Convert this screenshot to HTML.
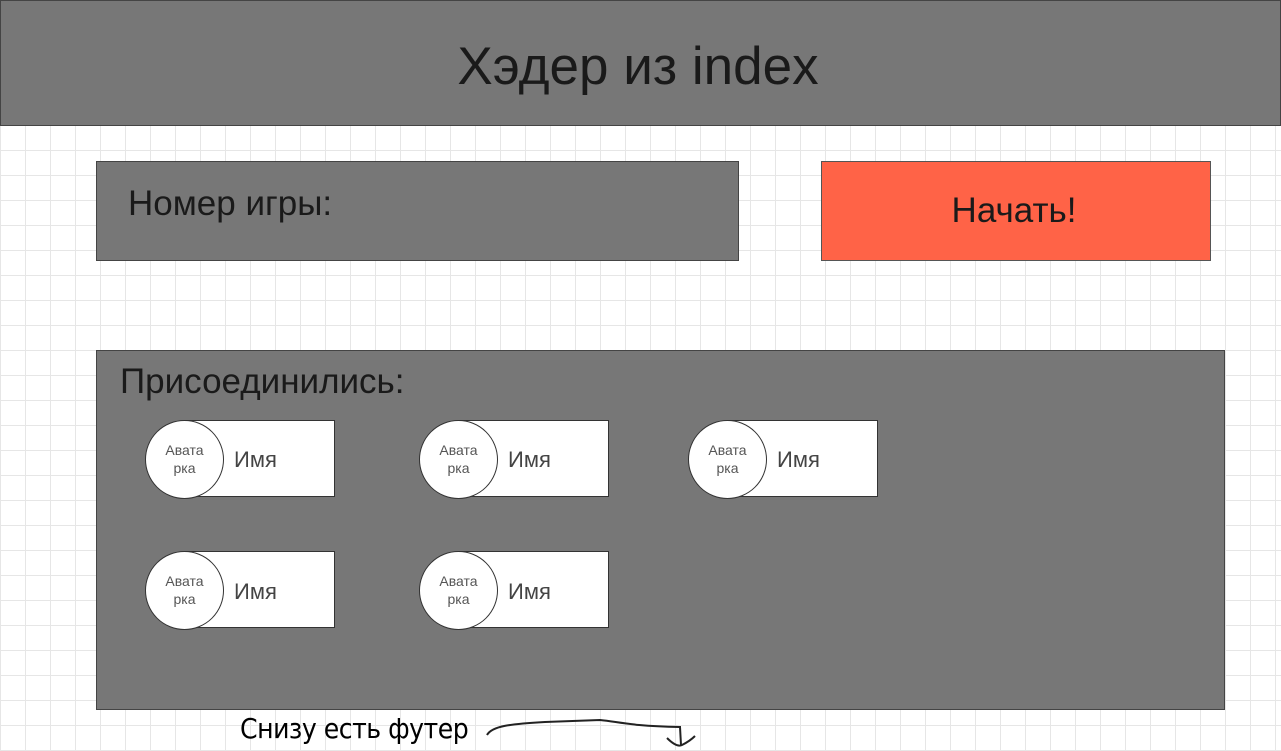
<!DOCTYPE html>
<html><head><meta charset="utf-8"><style>
body{margin:0;width:1281px;height:751px;position:relative;overflow:hidden;font-family:"Liberation Sans",sans-serif;
background-color:#fff;background-image:linear-gradient(#e6e6e6 1px,transparent 1px),linear-gradient(90deg,#e6e6e6 1px,transparent 1px);background-size:25px 25px;background-position:0 0;}
.b{position:absolute;box-sizing:border-box;}
.g{background:#777;border:1px solid #444;}
.card{position:absolute;width:150px;height:77px;background:#fff;border:1px solid #333;box-sizing:border-box;}
.circ{position:absolute;width:79px;height:79px;border-radius:50%;background:#fff;border:1px solid #333;box-sizing:border-box;font-size:14px;color:#555;text-align:center;line-height:18px;padding-top:20px;}
.nm{position:absolute;font-size:22px;color:#444;}
</style></head><body>
<div class="b g" style="left:0;top:0;width:1281px;height:126px;"></div>
<div class="b" style="left:0;top:36px;width:1276px;text-align:center;font-size:53px;color:#1a1a1a;">Хэдер из index</div>
<div class="b g" style="left:96px;top:161px;width:643px;height:100px;"></div>
<div class="b" style="left:128px;top:184px;font-size:35px;color:#1a1a1a;">Номер игры:</div>
<div class="b" style="left:821px;top:161px;width:390px;height:100px;background:#ff6347;border:1px solid #555;"></div>
<div class="b" style="left:819px;top:191px;width:390px;text-align:center;font-size:35px;color:#1a1a1a;">Начать!</div>
<div class="b g" style="left:96px;top:350px;width:1129px;height:360px;"></div>
<div class="b" style="left:120px;top:362px;font-size:35px;color:#1a1a1a;">Присоединились:</div>

<div class="card" style="left:185px;top:420px"></div><div class="circ" style="left:145px;top:420px">Авата<br>рка</div><div class="nm" style="left:234px;top:447px">Имя</div>
<div class="card" style="left:459px;top:420px"></div><div class="circ" style="left:419px;top:420px">Авата<br>рка</div><div class="nm" style="left:508px;top:447px">Имя</div>
<div class="card" style="left:728px;top:420px"></div><div class="circ" style="left:688px;top:420px">Авата<br>рка</div><div class="nm" style="left:777px;top:447px">Имя</div>
<div class="card" style="left:185px;top:551px"></div><div class="circ" style="left:145px;top:551px">Авата<br>рка</div><div class="nm" style="left:234px;top:579px">Имя</div>
<div class="card" style="left:459px;top:551px"></div><div class="circ" style="left:419px;top:551px">Авата<br>рка</div><div class="nm" style="left:508px;top:579px">Имя</div>

<div class="b" style="left:240px;top:712px;font-size:28px;color:#000;font-family:'DejaVu Sans Condensed','Liberation Sans Narrow',sans-serif;letter-spacing:-0.5px;">Снизу есть футер</div>
<svg class="b" style="left:0;top:0" width="1281" height="751"><path d="M487 735 C492 726 510 724 545 722 L600 720 C620 722 630 726 680 727 L681 745 M667 738 C672 743 678 747 682 745 C688 742 692 739 695 736" fill="none" stroke="#222" stroke-width="2"/></svg>
</body></html>
